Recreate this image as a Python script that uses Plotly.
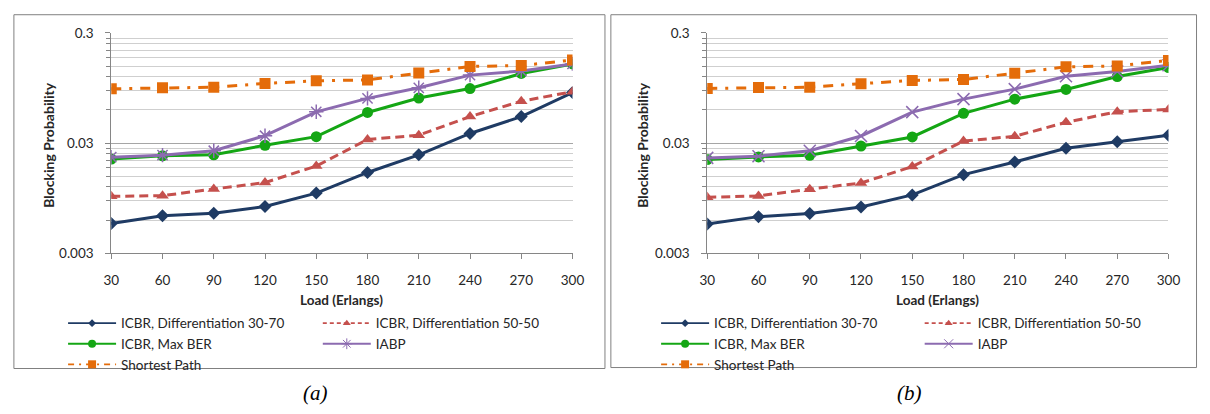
import plotly.graph_objects as go

# ---------------- data ----------------
load = [30, 60, 90, 120, 150, 180, 210, 240, 270, 300]

series_names = ["ICBR, Differentiation 30-70", "ICBR, Differentiation 50-50",
                "ICBR, Max BER", "IABP", "Shortest Path"]

a_diff3070 = [0.00559, 0.00655, 0.00692, 0.00795, 0.01053, 0.01622, 0.02345, 0.03666, 0.0522, 0.0862]
a_diff5050 = [0.00984, 0.00998, 0.01148, 0.01312, 0.01854, 0.0323, 0.0354, 0.0522, 0.0720, 0.0879]
a_maxber = [0.02148, 0.02299, 0.02345, 0.02865, 0.0343, 0.0569, 0.0769, 0.0939, 0.1286, 0.1571]
a_iabp = [0.02235, 0.0233, 0.02556, 0.0350, 0.0577, 0.0764, 0.0953, 0.1243, 0.1355, 0.1571]
a_sp = [0.0934, 0.0953, 0.0964, 0.1045, 0.1103, 0.1125, 0.1302, 0.1489, 0.1519, 0.1702]

b_diff3070 = [0.00552, 0.00644, 0.00689, 0.00788, 0.01014, 0.0155, 0.0202, 0.0269, 0.0308, 0.0353]
b_diff5050 = [0.00965, 0.00994, 0.01144, 0.0130, 0.01833, 0.03127, 0.03456, 0.0463, 0.0578, 0.0606]
b_maxber = [0.02127, 0.02245, 0.02325, 0.0282, 0.0341, 0.0559, 0.0752, 0.0921, 0.1206, 0.1456]
b_iabp = [0.0220, 0.02278, 0.02553, 0.0348, 0.0573, 0.0752, 0.0927, 0.1213, 0.1343, 0.1529]
b_sp = [0.0940, 0.0959, 0.0965, 0.1040, 0.1112, 0.1135, 0.1290, 0.1477, 0.1507, 0.1691]

y_major_ticks = [0.003, 0.03, 0.3]
y_major_labels = ["0.003", "0.03", "0.3"]
y_minor_ticks = [0.003 * k for k in range(2, 10)] + [0.03 * k for k in range(2, 10)]

x_title = "Load (Erlangs)"
y_title = "Blocking Probability"
captions = ["(a)", "(b)"]

# ---------------- styles ----------------
W, H = 1210, 414
FONT = "Lato, Open Sans, sans-serif"
colors = ["#1F3B64", "#C5504D", "#14A614", "#8C6BB0", "#E46C0A"]
dashes = ["solid", "9px,5px", "solid", "solid", "10px,8px,3px,8px"]
legend_dashes = ["solid", "4px,3px", "solid", "solid", "6px,5px,2px,5px"]
symbols_a = ["diamond", "triangle-up", "circle", "asterisk-open", "square"]
symbols_b = ["diamond", "triangle-up", "circle", "x-thin-open", "square"]
msizes = [10, 11, 11, 12, 11]
legend_msizes = [6, 7, 8, 9, 8]


def px_x(v):
    return v / W


def px_y(v):
    return (H - v) / H


fig = go.Figure()

panels = [
    dict(data=[a_diff3070, a_diff5050, a_maxber, a_iabp, a_sp], xa="x", ya="y",
         symbols=symbols_a, legends=["legend", "legend2"]),
    dict(data=[b_diff3070, b_diff5050, b_maxber, b_iabp, b_sp], xa="x2", ya="y2",
         symbols=symbols_b, legends=["legend3", "legend4"]),
]

legend_col = [0, 1, 0, 1, 0]
legend_order = [0, 2, 4, 1, 3]

for p in panels:
    for i, (vals, name) in enumerate(zip(p["data"], series_names)):
        sym = p["symbols"][i]
        open_sym = sym.endswith("open")
        fig.add_trace(go.Scatter(
            x=load, y=vals, name=name, mode="lines+markers",
            xaxis=p["xa"], yaxis=p["ya"], showlegend=False,
            line=dict(color=colors[i], width=3, dash=dashes[i]),
            marker=dict(symbol=sym, size=msizes[i], color=colors[i],
                        line=dict(color=colors[i], width=1.5 if open_sym else 0)),
        ))
    for i in legend_order:
        sym = p["symbols"][i]
        open_sym = sym.endswith("open")
        fig.add_trace(go.Scatter(
            x=[None], y=[None], name=series_names[i], mode="lines+markers",
            xaxis=p["xa"], yaxis=p["ya"], showlegend=True,
            legend=p["legends"][legend_col[i]],
            line=dict(color=colors[i], width=1.8, dash=legend_dashes[i]),
            marker=dict(symbol=sym, size=legend_msizes[i], color=colors[i],
                        line=dict(color=colors[i], width=1 if open_sym else 0)),
        ))

xdom_a = [px_x(105), px_x(574)]
xdom_b = [px_x(711), px_x(1180)]
ydom = [px_y(255), px_y(26)]

common_x = dict(
    range=[30, 300], tickmode="array", tickvals=load, ticktext=[str(v) for v in load],
    showgrid=False, zeroline=False, showline=True, linecolor="#868686", linewidth=1,
    ticks="outside", ticklen=5, tickcolor="#868686",
    tickfont=dict(family=FONT, size=13.5, color="#262626"), ticklabelstandoff=10,
)
common_y = dict(
    type="log", range=[-2.5229, -0.5229], tickmode="array",
    tickvals=y_major_ticks, ticktext=y_major_labels,
    showgrid=True, gridcolor="#a6a6a6", gridwidth=1, zeroline=False,
    showline=True, linecolor="#868686", linewidth=1,
    ticks="outside", ticklen=5, tickcolor="#868686",
    tickfont=dict(family=FONT, size=13.5, color="#262626"), ticklabelstandoff=9,
    minor=dict(tickmode="array", tickvals=y_minor_ticks, showgrid=True,
               gridcolor="#cfcfcf", gridwidth=1, ticks="outside", ticklen=4,
               tickcolor="#868686"),
)

legend_common = dict(
    orientation="v", xanchor="left", yanchor="top", bgcolor="rgba(0,0,0,0)",
    borderwidth=0, font=dict(family=FONT, size=13.5, color="#262626"),
    tracegroupgap=0, itemwidth=48, itemclick=False, itemdoubleclick=False,
)

fig.update_layout(
    width=W, height=H, margin=dict(l=0, r=0, t=0, b=0),
    paper_bgcolor="white", plot_bgcolor="white",
    xaxis=dict(domain=xdom_a, anchor="y", **common_x),
    yaxis=dict(domain=ydom, anchor="x", **common_y),
    xaxis2=dict(domain=xdom_b, anchor="y2", **common_x),
    yaxis2=dict(domain=ydom, anchor="x2", **common_y),
    legend=dict(x=px_x(56), y=px_y(312), **legend_common),
    legend2=dict(x=px_x(315), y=px_y(312), **legend_common),
    legend3=dict(x=px_x(659), y=px_y(312), **legend_common),
    legend4=dict(x=px_x(927), y=px_y(312), **legend_common),
    showlegend=True,
)

# chart frames
fig.add_shape(type="rect", xref="paper", yref="paper",
              x0=px_x(6), x1=px_x(607), y0=px_y(375), y1=px_y(7),
              line=dict(color="#808080", width=1), fillcolor="rgba(0,0,0,0)", layer="below")
fig.add_shape(type="rect", xref="paper", yref="paper",
              x0=px_x(613), x1=px_x(1208.5), y0=px_y(374), y1=px_y(7),
              line=dict(color="#808080", width=1), fillcolor="rgba(0,0,0,0)", layer="below")

for xc, ytx, cap_x, cap in [(339.5, 41, 313, captions[0]), (945.5, 645, 917, captions[1])]:
    fig.add_annotation(text="<b>" + x_title + "</b>", xref="paper", yref="paper",
                       x=px_x(xc), y=px_y(304), showarrow=False, xanchor="center", yanchor="middle",
                       font=dict(family=FONT, size=13.5, color="#262626"))
    fig.add_annotation(text="<b>" + y_title + "</b>", xref="paper", yref="paper",
                       x=px_x(ytx), y=px_y(142), showarrow=False, textangle=-90,
                       xanchor="center", yanchor="middle",
                       font=dict(family=FONT, size=14, color="#262626"))
    fig.add_annotation(text="<i>" + cap + "</i>", xref="paper", yref="paper",
                       x=px_x(cap_x), y=px_y(400), showarrow=False, xanchor="center", yanchor="middle",
                       font=dict(family="Liberation Serif, serif", size=21, color="black"))

# remove the default page margin so the 1210x414 figure fills the window exactly
fig.write_html("out.html", config={"displayModeBar": False},
               post_script="document.body.style.margin='0';document.body.style.overflow='hidden';")
